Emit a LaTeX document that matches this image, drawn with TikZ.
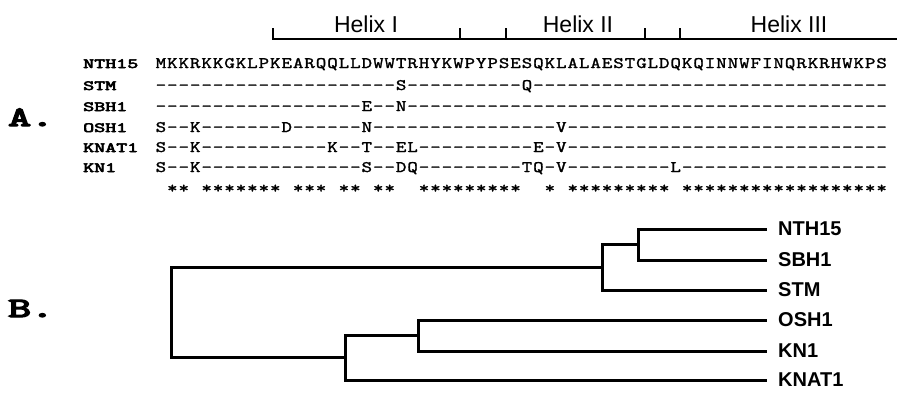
\documentclass[tikz,border=0pt]{standalone}
\usepackage{fontspec}
\usepackage{graphicx}
\newfontfamily\helv{Liberation Sans}
\font\seqf="[lmmono10-regular.otf]:embolden=1.3" at 16pt
\font\labf="[lmmono10-regular.otf]:embolden=3.5" at 14pt
\font\partf="[lmmono10-regular.otf]:embolden=4.5" at 28pt
\newlength\seqpitch \setlength\seqpitch{11.44pt}
\def\seqloop#1{\ifx\relax#1\else\seqchar{#1}\expandafter\seqloop\fi}
\newcommand\seqrow[1]{\seqloop#1\relax}
\newcommand\seqchar[1]{\makebox[\seqpitch]{\if.#1\else\scalebox{1.25}[1]{#1}\fi}}
\begin{document}
\begin{tikzpicture}[x=1pt,y=-1pt,
  seq/.style={anchor=base west,inner sep=0pt,font=\seqf},
  lab/.style={anchor=base west,inner sep=0pt,font=\labf},
  part/.style={anchor=base west,inner sep=0pt,font=\partf},
  helix/.style={inner sep=0pt,font=\helv\fontsize{23}{23}\selectfont},
  bar/.style={line width=2pt,line cap=rect},
  branch/.style={line width=3pt,line join=miter},
  leaf/.style={anchor=west,inner sep=0pt,font=\helv\bfseries\fontsize{20}{20}\selectfont}]
\useasboundingbox[fill=white] (0,0) rectangle (897,392);
% helix bar
\node[helix] (h1) at (366,24) {Helix I};
\node[helix] (h2) at (578,24) {Helix II};
\node[helix] (h3) at (789,24) {Helix III};
\draw[bar] (273,29) -- (273,39) -- (897,39);
\foreach \t in {460,506,645,680} \draw[bar] (\t,29) -- (\t,39);
% part labels
\node[part] (A) at (8,126) {\scalebox{1.55}[1]{A.}};
\node[part] (B) at (8,317) {\scalebox{1.55}[1]{B.}};
% alignment
\node[lab] (lNTH15) at (83,68) {\scalebox{1.5}[1]{NTH15}};
\node[lab] (lSTM) at (83,90) {\scalebox{1.5}[1]{STM}};
\node[lab] (lSBH1) at (83,111) {\scalebox{1.5}[1]{SBH1}};
\node[lab] (lOSH1) at (83,132) {\scalebox{1.5}[1]{OSH1}};
\node[lab] (lKNAT1) at (83,152) {\scalebox{1.5}[1]{KNAT1}};
\node[lab] (lKN1) at (83,172) {\scalebox{1.5}[1]{KN1}};
\node[seq] (sNTH15) at (155,68) {\seqrow{MKKRKKGKLPKEARQQLLDWWTRHYKWPYPSESQKLALAESTGLDQKQINNWFINQRKRHWKPS}};
\node[seq] (sSTM) at (155,90) {\seqrow{---------------------S----------Q-------------------------------}};
\node[seq] (sSBH1) at (155,111) {\seqrow{------------------E--N------------------------------------------}};
\node[seq] (sOSH1) at (155,132) {\seqrow{S--K-------D------N----------------V----------------------------}};
\node[seq] (sKNAT1) at (155,152) {\seqrow{S--K-----------K--T--EL----------E-V----------------------------}};
\node[seq] (sKN1) at (155,172) {\seqrow{S--K--------------S--DQ---------TQ-V---------L------------------}};
\node[seq] (stars) at (155,193) {\seqrow{.**.*******.***.**.**..*********..*.*********.******************}};
% tree
\coordinate (r) at (171,312);
\coordinate (a) at (602,267);
\coordinate (b) at (638,244);
\coordinate (c) at (345,357);
\coordinate (d) at (418,335);
\node[leaf] (NTH15) at (778,229) {NTH15};
\node[leaf] (SBH1) at (778,260) {SBH1};
\node[leaf] (STM) at (778,290) {STM};
\node[leaf] (OSH1) at (778,320) {OSH1};
\node[leaf] (KN1) at (778,351) {KN1};
\node[leaf] (KNAT1) at (778,380) {KNAT1};
\draw[branch] (r) |- (a);
\draw[branch] (r) |- (c);
\draw[branch] (a) |- (b);
\draw[branch,shorten >=11pt] (a) |- (STM.west);
\draw[branch,shorten >=11pt] (b) |- (NTH15.west);
\draw[branch,shorten >=11pt] (b) |- (SBH1.west);
\draw[branch] (c) |- (d);
\draw[branch,shorten >=11pt] (c) |- (KNAT1.west);
\draw[branch,shorten >=11pt] (d) |- (OSH1.west);
\draw[branch,shorten >=11pt] (d) |- (KN1.west);
\end{tikzpicture}
\end{document}
